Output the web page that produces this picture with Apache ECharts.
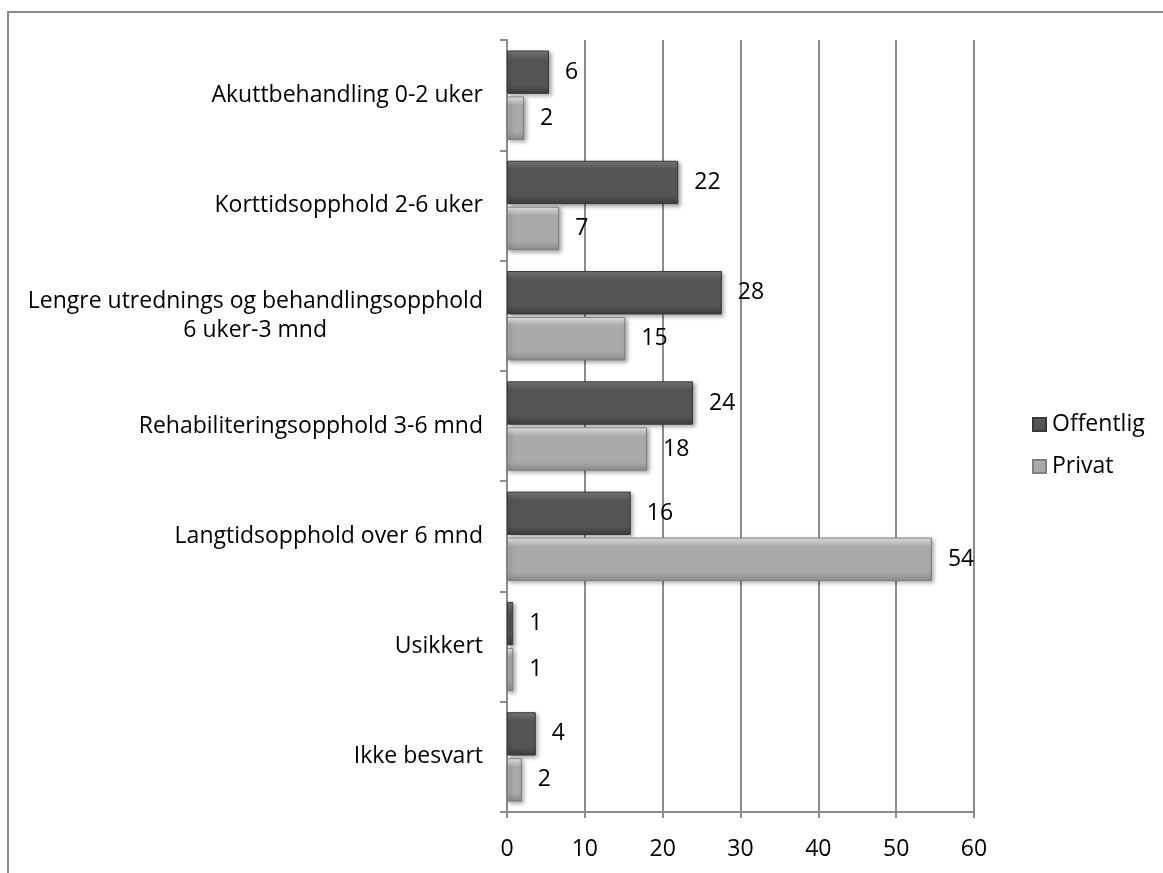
<!DOCTYPE html>
<html>
<head>
<meta charset="utf-8">
<script src="https://cdn.jsdelivr.net/npm/echarts@6/dist/echarts.min.js"></script>
<style>
html,body{margin:0;padding:0;background:#fff;}
#chart{width:1163px;height:873px;}
</style>
</head>
<body>
<div id="chart"></div>
<script>
var categories = [
  'Akuttbehandling 0-2 uker',
  'Korttidsopphold 2-6 uker',
  'Lengre utrednings og behandlingsopphold\n6 uker-3 mnd',
  'Rehabiliteringsopphold 3-6 mnd',
  'Langtidsopphold over 6 mnd',
  'Usikkert',
  'Ikke besvart'
];
var seriesNames = ['Offentlig', 'Privat'];
var offentligValues = [5.4, 22.0, 27.6, 23.9, 15.9, 0.8, 3.7];
var privatValues = [2.2, 6.7, 15.2, 18.0, 54.6, 0.8, 1.9];
var offentligLabels = ['6', '22', '28', '24', '16', '1', '4'];
var privatLabels = ['2', '7', '15', '18', '54', '1', '2'];
var xTicks = [0, 10, 20, 30, 40, 50, 60];

var FONT = 'Open Sans';
var FS = 23;
var chart = echarts.init(document.getElementById('chart'));

var measureCtx = document.createElement('canvas').getContext('2d');
measureCtx.font = FS + 'px "' + FONT + '"';
function textW(s) { return measureCtx.measureText(s).width; }

function grad(top, mid, bot) {
  return new echarts.graphic.LinearGradient(0, 0, 0, 1, [
    {offset: 0, color: top},
    {offset: 0.2, color: mid},
    {offset: 0.8, color: mid},
    {offset: 1, color: bot}
  ]);
}

function makeSeries(name, values, labels, itemStyle) {
  return {
    name: name,
    type: 'bar',
    data: values,
    barGap: '6%',
    barCategoryGap: '19%',
    itemStyle: itemStyle,
    label: {
      show: true,
      position: 'right',
      distance: 16,
      color: '#000',
      fontFamily: FONT,
      fontSize: FS,
      formatter: function (p) { return labels[p.dataIndex]; }
    }
  };
}

chart.setOption({
  animation: false,
  backgroundColor: '#fff',
  graphic: [{
    type: 'rect',
    shape: {x: 8, y: 12, width: 1300, height: 1000},
    style: {fill: 'none', stroke: '#8a8a8a', lineWidth: 2},
    silent: true,
    z: -10
  }],
  grid: {left: 507, right: 189, top: 40, bottom: 61, containLabel: false},
  legend: {
    orient: 'vertical',
    left: 1027,
    top: 408,
    itemWidth: 13,
    itemHeight: 13,
    itemGap: 19,
    icon: 'rect',
    textStyle: {fontFamily: FONT, fontSize: FS, color: '#000', padding: [0, 0, 0, 1]},
    data: seriesNames
  },
  xAxis: {
    type: 'value',
    min: 0,
    max: 60,
    interval: 10,
    axisLine: {show: true, lineStyle: {color: '#8c8c8c', width: 2}},
    axisTick: {show: true, length: 6, lineStyle: {color: '#8c8c8c', width: 2}},
    splitLine: {show: true, lineStyle: {color: '#8c8c8c', width: 2}},
    axisLabel: {
      fontFamily: FONT, fontSize: FS, color: '#000', margin: 26,
      formatter: function (v) { return xTicks.indexOf(v) >= 0 ? String(v) : ''; }
    }
  },
  yAxis: {
    type: 'category',
    inverse: true,
    data: categories,
    axisLine: {show: true, lineStyle: {color: '#8c8c8c', width: 2}},
    axisTick: {show: true, length: 7, lineStyle: {color: '#8c8c8c', width: 2}},
    axisLabel: {
      fontFamily: FONT, fontSize: FS, color: '#000', margin: 24, lineHeight: 29,
      formatter: function (v) {
        var parts = v.split('\n');
        if (parts.length > 1) {
          var w = textW(parts[0]);
          return '{a|' + parts[0] + '}\n{b|' + parts[1] + '}';
        }
        return v;
      },
      rich: {
        a: {fontFamily: FONT, fontSize: FS, color: '#000', lineHeight: 29},
        b: {fontFamily: FONT, fontSize: FS, color: '#000', lineHeight: 29,
            padding: [0, Math.round((textW('Lengre utrednings og behandlingsopphold') - textW('6 uker-3 mnd')) / 2), 0, 0]}
      }
    }
  },
  series: [
    makeSeries('Offentlig', offentligValues, offentligLabels, {
      color: grad('#7c7c7c', '#555555', '#3c3c3c'),
      borderColor: '#383838',
      borderWidth: 1,
      shadowColor: 'rgba(0,0,0,0.35)',
      shadowBlur: 4,
      shadowOffsetX: 2,
      shadowOffsetY: 2
    }),
    makeSeries('Privat', privatValues, privatLabels, {
      color: grad('#f0f0f0', '#a9a9a9', '#8c8c8c'),
      borderColor: '#7f7f7f',
      borderWidth: 1,
      shadowColor: 'rgba(0,0,0,0.35)',
      shadowBlur: 4,
      shadowOffsetX: 2,
      shadowOffsetY: 2
    })
  ]
});
</script>
</body>
</html>
